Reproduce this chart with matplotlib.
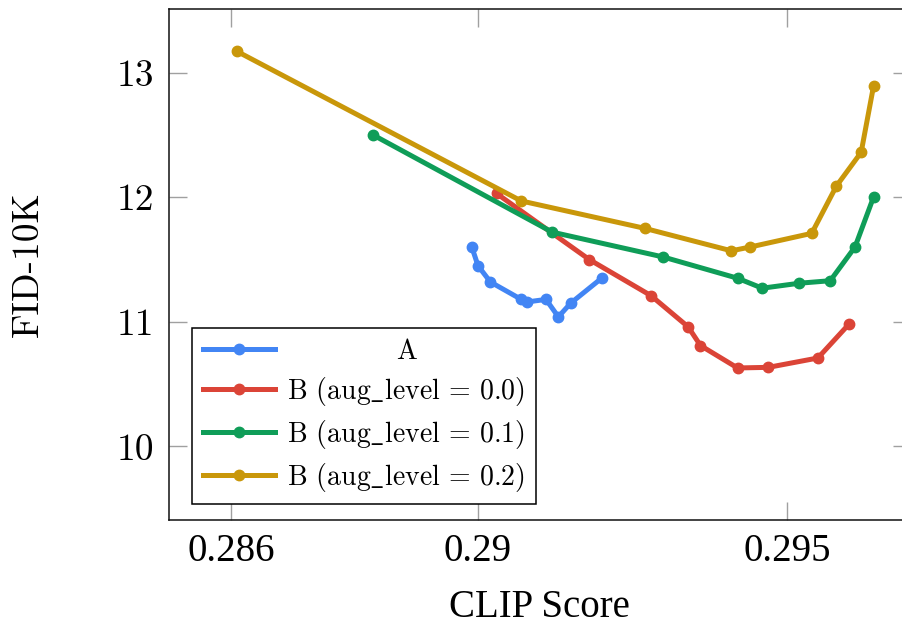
import matplotlib

matplotlib.use('Agg')
import matplotlib.pyplot as plt

plt.rcParams['mathtext.fontset'] = 'cm'

# CLIP score (x) vs FID-10K (y)
a_clip = [0.2899, 0.2900, 0.2902, 0.2907, 0.2908, 0.2911, 0.2913, 0.2915, 0.2920]
a_fid = [11.60, 11.45, 11.32, 11.18, 11.16, 11.18, 11.04, 11.15, 11.35]

b0_clip = [0.2903, 0.2918, 0.2928, 0.2934, 0.2936, 0.2942, 0.2947, 0.2955, 0.2960]
b0_fid = [12.03, 11.50, 11.21, 10.96, 10.81, 10.63, 10.635, 10.71, 10.98]

b1_clip = [0.2883, 0.2912, 0.2930, 0.2942, 0.2946, 0.2952, 0.2957, 0.2961, 0.2964]
b1_fid = [12.50, 11.72, 11.52, 11.35, 11.27, 11.31, 11.33, 11.60, 12.00]

b2_clip = [0.2861, 0.2907, 0.2927, 0.2941, 0.2944, 0.2954, 0.2958, 0.2962, 0.2964]
b2_fid = [13.17, 11.97, 11.75, 11.57, 11.60, 11.71, 12.09, 12.36, 12.89]

# cmr10 has no "_" glyph, so the underscore goes through mathtext
series_labels = ['A', r'B (aug$\_$level = 0.0)', r'B (aug$\_$level = 0.1)',
                 r'B (aug$\_$level = 0.2)']
series_colors = ['#4285F4', '#DB4437', '#0F9D58', '#C9970A']

x_ticks = [0.286, 0.29, 0.295]
x_tick_labels = ['0.286', '0.29', '0.295']
y_ticks = [10, 11, 12, 13]
y_tick_labels = ['10', '11', '12', '13']

cm_font = ['cmr10', 'DejaVu Serif']
times_font = ['Liberation Serif', 'DejaVu Serif']

fig = plt.figure(figsize=(9.03, 6.26), dpi=100)
ax = fig.add_axes([0.1872, 0.1693, 0.8212, 0.8163])

data = [(a_clip, a_fid), (b0_clip, b0_fid), (b1_clip, b1_fid), (b2_clip, b2_fid)]
for (xs, ys), label, color in zip(data, series_labels, series_colors):
    ax.plot(xs, ys, color=color, lw=3.6, marker='o', ms=7.5, label=label)

ax.set_xlim(0.285, 0.297)
ax.set_ylim(9.41, 13.51)

ax.set_xticks(x_ticks, labels=x_tick_labels)
ax.set_yticks(y_ticks, labels=y_tick_labels)
ax.tick_params(direction='in', length=13, width=1.0, color='#a0a0a0',
               top=True, right=True)
ax.tick_params(axis='x', pad=9)
ax.tick_params(axis='y', pad=11)
for t in ax.get_xticklabels():
    t.set_fontfamily(times_font)
    t.set_fontsize(28)
for t in ax.get_yticklabels():
    t.set_fontfamily(cm_font)
    t.set_fontsize(27)

for sp in ax.spines.values():
    sp.set_linewidth(1.1)
    sp.set_color('#111111')

ax.set_xlabel('CLIP Score', fontfamily=times_font, fontsize=28)
ax.set_ylabel('FID-10K', fontfamily=cm_font, fontsize=27)
ax.xaxis.set_label_coords(0.5, -0.135)
ax.yaxis.set_label_coords(-0.168, 0.5)

leg = ax.legend(loc='lower left', bbox_to_anchor=(0.031, 0.031), borderaxespad=0,
                prop={'family': cm_font, 'size': 20}, fancybox=False, framealpha=1,
                edgecolor='black', handlelength=2.6, handletextpad=0.45,
                borderpad=0.38, labelspacing=0.36)
leg.get_frame().set_linewidth(1.1)

# center the short "A" label in the label column, like the original
fig.canvas.draw()
texts = leg.get_texts()
widths = [t.get_window_extent().width for t in texts]
texts[0].set_x((max(widths) - widths[0]) / 2)

fig.savefig('out.png', dpi=100)
